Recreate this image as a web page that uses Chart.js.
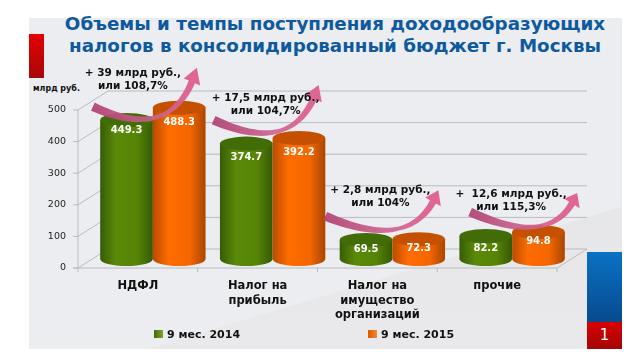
<!DOCTYPE html>
<html>
<head>
<meta charset="utf-8">
<script src="https://cdn.jsdelivr.net/npm/chart.js@4"></script>
<style>
html, body { margin: 0; padding: 0; background: #fff; }
#page { position: relative; width: 640px; height: 363px; overflow: hidden; font-family: "DejaVu Sans"; }
#panel { position: absolute; left: 29px; top: 18px; width: 593px; height: 331px; background: #ecedf0; }
#shade { position: absolute; left: 29px; top: 18px; width: 593px; height: 331px;
  background: linear-gradient(180deg, #e3e4e6, #e9e9eb); clip-path: polygon(100% 57%, 100% 100%, 20% 100%); }
#redbar { position: absolute; left: 29px; top: 34px; width: 15px; height: 44px;
  background: linear-gradient(#e60000, #a80808); }
#bluebar { position: absolute; left: 587px; top: 252px; width: 35px; height: 70px;
  background: linear-gradient(#0a72c4, #074a8e); }
#pagenum { position: absolute; left: 587px; top: 322px; width: 35px; height: 27px;
  background: linear-gradient(#d80000, #a50606); color: #fff; font-size: 15px; text-align: center; line-height: 27px; }
#unit { position: absolute; left: 33px; top: 84px; font-weight: bold; font-size: 8px; color: #111; }
#title { position: absolute; left: 0; top: 13px; width: 670px; text-align: center; color: #0f5a9c;
  font-weight: bold; font-size: 18.3px; line-height: 22px; white-space: nowrap; }
.legend-item { position: absolute; top: 328px; font-weight: bold; font-size: 11px; line-height: 14px; color: #111; white-space: nowrap; }
.legend-item i { display: inline-block; width: 9px; height: 8px; margin-right: 4px; }
canvas { position: absolute; left: 0; top: 0; }
</style>
</head>
<body>
<div id="page">
  <div id="panel"></div>
  <div id="shade"></div>
  <div id="redbar"></div>
  <div id="bluebar"></div>
  <div id="pagenum">1</div>
  <div id="title"></div>
  <div id="unit">млрд руб.</div>
  <canvas id="taxChart" width="640" height="363"></canvas>
  <div class="legend-item" id="legend0" style="left:154px"></div>
  <div class="legend-item" id="legend1" style="left:368px"></div>
</div>
<script>
// Chart data
const categories = ["НДФЛ", ["Налог на", "прибыль"], ["Налог на", "имущество", "организаций"], "прочие"];
const series2014 = [449.3, 374.7, 69.5, 82.2];
const series2015 = [488.3, 392.2, 72.3, 94.8];
const seriesNames = ["9 мес. 2014", "9 мес. 2015"];
const yTicks = [0, 100, 200, 300, 400, 500];
const titleLines = ["Объемы и темпы поступления доходообразующих", "налогов в консолидированный бюджет г. Москвы"];
const calloutTexts = [
    ["+ 39 млрд руб.,", "или 108,7%"],
    ["+ 17,5 млрд руб.,", "или 104,7%"],
    ["+ 2,8 млрд руб.,", "или 104%"],
    ["+  12,6 млрд руб.,", "или 115,3%"]
];

// Look of the fake 3D box
const wallX = 30, wallY = -19;
const barShiftX = 15, barShiftY = -9;
const greenStops = ["#365c06", "#5a8a08", "#568406", "#355a06"];
const orangeStops = ["#b84c00", "#ff6c00", "#f56600", "#a94600"];
const topColors = ["#416c08", "#c45000"];
const swatchColors = ["linear-gradient(90deg,#3f6a06,#7fa52a)", "linear-gradient(90deg,#d85a00,#f08a30)"];

// Where each callout and arrow sits, relative to the group's centre and orange bar top
const calloutOffsets = [[-20, -31], [-7, -37], [-12, -46], [-1, -35]];
const arrowTails = [[-60, 2], [-59, -15], [-67, -20], [-42, -17]];
const arrowHeads = [[44, -37], [46, -50], [46, -46], [65, -36]];
// How far below the bar top the value labels sit
const labelDrops2014 = [13, 17, 12, 15];
const labelDrops2015 = [18, 17, 12, 12];

document.getElementById("title").innerHTML = titleLines.join("<br>");
seriesNames.forEach((name, i) => {
    document.getElementById("legend" + i).innerHTML = `<i style="background:${swatchColors[i]}"></i>${name}`;
});

// Walls and floor go under the bars
const wallsPlugin = {
    id: "walls",
    beforeDatasetsDraw(chart) {
        const { ctx, scales: { x, y } } = chart;
        const left = x.left, right = x.right, bottom = y.getPixelForValue(0);
        ctx.save();
        ctx.lineWidth = 1;
        ctx.strokeStyle = "#b9bbbd";
        yTicks.forEach((t) => {
            const py = y.getPixelForValue(t);
            ctx.beginPath();
            ctx.moveTo(left - 5, py);
            ctx.lineTo(left, py);
            ctx.lineTo(left + wallX, py + wallY);
            if (t > 0) ctx.lineTo(right + wallX, py + wallY);
            ctx.stroke();
        });
        ctx.beginPath();
        ctx.moveTo(left, y.getPixelForValue(500));
        ctx.lineTo(left, bottom + 4);
        ctx.moveTo(left - 5, bottom);
        ctx.lineTo(right, bottom);
        ctx.lineTo(right + wallX, bottom + wallY);
        ctx.lineTo(left + wallX, bottom + wallY);
        categories.forEach((_, i) => {
            const tx = x.getPixelForValue(i) + (x.getPixelForValue(1) - x.getPixelForValue(0)) / 2;
            ctx.moveTo(tx, bottom);
            ctx.lineTo(tx, bottom + 4);
        });
        ctx.stroke();
        ctx.restore();
    },
    // the library's flat rectangles are replaced by the cylinders below
    beforeDatasetDraw() { return false; }
};

function drawCylinder(ctx, bar, stops, topColor) {
    const half = bar.width / 2;
    const cx = bar.x + barShiftX;
    const top = bar.y + barShiftY + 3;
    const base = bar.base + barShiftY;
    const ry = 7;
    const grad = ctx.createLinearGradient(cx - half, 0, cx + half, 0);
    grad.addColorStop(0, stops[0]);
    grad.addColorStop(0.3, stops[1]);
    grad.addColorStop(0.7, stops[2]);
    grad.addColorStop(1, stops[3]);
    ctx.fillStyle = grad;
    ctx.beginPath();
    ctx.moveTo(cx - half, top);
    ctx.lineTo(cx - half, base);
    ctx.ellipse(cx, base, half, ry, 0, Math.PI, 0, true);
    ctx.lineTo(cx + half, top);
    ctx.closePath();
    ctx.fill();
    ctx.fillStyle = topColor;
    ctx.beginPath();
    ctx.ellipse(cx, top, half, ry, 0, 0, Math.PI * 2);
    ctx.fill();
}

// Curved ribbon: wide cut tail, thin in the middle, triangle head at the end
function drawArrow(ctx, tx, ty, hx, hy) {
    const cx = tx + (hx - tx) * 0.79, cy = ty + 38;
    const upper = [], lower = [];
    const steps = 30;
    const stop = 0.9;
    for (let i = 0; i <= steps; i++) {
        const t = (i / steps) * stop, u = 1 - t;
        const px = u * u * tx + 2 * u * t * cx + t * t * hx;
        const py = u * u * ty + 2 * u * t * cy + t * t * hy;
        const dx = 2 * u * (cx - tx) + 2 * t * (hx - cx);
        const dy = 2 * u * (cy - ty) + 2 * t * (hy - cy);
        const len = Math.hypot(dx, dy);
        const w = t < 0.5 ? 4.5 - t * 5 : 2 + (t - 0.5) * 3.5;
        upper.push([px + (dy / len) * w, py - (dx / len) * w]);
        lower.push([px - (dy / len) * w, py + (dx / len) * w]);
    }
    const end = upper.length - 1;
    const mx = (upper[end][0] + lower[end][0]) / 2, my = (upper[end][1] + lower[end][1]) / 2;
    const nx = (upper[end][0] - lower[end][0]) / Math.hypot(upper[end][0] - lower[end][0], upper[end][1] - lower[end][1]);
    const ny = (upper[end][1] - lower[end][1]) / Math.hypot(upper[end][0] - lower[end][0], upper[end][1] - lower[end][1]);
    const grad = ctx.createLinearGradient(tx, ty, hx, hy);
    grad.addColorStop(0, "rgba(178, 70, 118, 0.95)");
    grad.addColorStop(0.5, "rgba(205, 98, 142, 0.9)");
    grad.addColorStop(1, "rgba(226, 92, 140, 0.95)");
    ctx.fillStyle = grad;
    ctx.beginPath();
    ctx.moveTo(upper[0][0], upper[0][1]);
    upper.forEach((p) => ctx.lineTo(p[0], p[1]));
    ctx.lineTo(mx + nx * 9, my + ny * 9);
    ctx.lineTo(hx, hy);
    ctx.lineTo(mx - nx * 9, my - ny * 9);
    lower.reverse().forEach((p) => ctx.lineTo(p[0], p[1]));
    ctx.closePath();
    ctx.fill();
}

// Cylinders, value labels, arrows and callouts
const cylindersPlugin = {
    id: "cylinders",
    afterDatasetsDraw(chart) {
        const { ctx } = chart;
        const green = chart.getDatasetMeta(0).data;
        const orange = chart.getDatasetMeta(1).data;
        ctx.save();
        green.forEach((bar, i) => {
            drawCylinder(ctx, bar, greenStops, topColors[0]);
            drawCylinder(ctx, orange[i], orangeStops, topColors[1]);
        });
        ctx.font = "bold 10px 'DejaVu Sans'";
        ctx.textAlign = "center";
        ctx.textBaseline = "middle";
        ctx.fillStyle = "#fff";
        green.forEach((bar, i) => {
            ctx.fillText(series2014[i].toFixed(1), bar.x + barShiftX, bar.y + barShiftY + labelDrops2014[i]);
            ctx.fillText(series2015[i].toFixed(1), orange[i].x + barShiftX, orange[i].y + barShiftY + labelDrops2015[i]);
        });
        ctx.font = "bold 10.5px 'DejaVu Sans'";
        green.forEach((bar, i) => {
            const o = orange[i];
            const cx = (bar.x + o.x) / 2 + barShiftX;
            const top = o.y + barShiftY;
            drawArrow(ctx, cx + arrowTails[i][0], top + arrowTails[i][1], cx + arrowHeads[i][0], top + arrowHeads[i][1]);
            ctx.fillStyle = "#111";
            calloutTexts[i].forEach((line, k) => {
                ctx.fillText(line, cx + calloutOffsets[i][0], top + calloutOffsets[i][1] + k * 13);
            });
        });
        ctx.restore();
    }
};

const taxChart = new Chart(document.getElementById("taxChart").getContext("2d"), {
    type: "bar",
    data: {
        labels: categories,
        datasets: [
            { label: seriesNames[0], data: series2014, backgroundColor: "#5a8a08" },
            { label: seriesNames[1], data: series2015, backgroundColor: "#ff6c00" }
        ]
    },
    plugins: [wallsPlugin, cylindersPlugin],
    options: {
        responsive: false,
        animation: false,
        layout: { padding: { left: 48, right: 83, top: 110, bottom: 32 } },
        datasets: { bar: { barPercentage: 1, categoryPercentage: 0.88 } },
        scales: {
            x: {
                afterFit(axis) { axis.height = 63; },
                grid: { display: false },
                border: { display: false },
                ticks: { color: "#111", font: { family: "DejaVu Sans", weight: "bold", size: 11.5, lineHeight: 1.27 }, maxRotation: 0, padding: 3, autoSkip: false }
            },
            y: {
                min: 0,
                max: 500,
                afterFit(axis) { axis.width = 30; },
                afterBuildTicks(axis) { axis.ticks = yTicks.map((v) => ({ value: v })); },
                grid: { display: false },
                border: { display: false },
                ticks: { color: "#222", font: { family: "DejaVu Sans", size: 9.5 }, padding: 4 }
            }
        },
        plugins: {
            legend: { display: false },
            tooltip: { enabled: false }
        }
    }
});
</script>
</body>
</html>
